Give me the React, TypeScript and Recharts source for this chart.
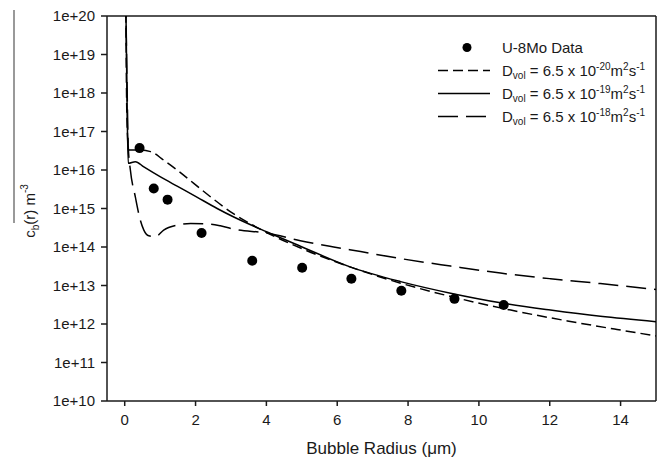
import React from "react";
import { ComposedChart, Line, Scatter, XAxis, YAxis, Legend, ReferenceLine } from "recharts";

// measured U-8Mo bubble density
const dotRadius = [0.42, 0.82, 1.21, 2.17, 3.6, 5.01, 6.4, 7.81, 9.31, 10.7];
const dotConc = [3.7e16, 3.3e15, 1.7e15, 2.3e14, 4.4e13, 2.9e13, 1.5e13, 7.3e12, 4.5e12, 3.1e12];

// Dvol = 6.5e-20
const r20 = [0.03, 0.06, 0.11, 0.4, 0.73, 1.1, 1.48, 1.95, 2.51, 3.08, 3.55, 4.02, 5.0, 6.38, 7.79, 9.2, 10.9, 12.5, 13.9, 15];
const c20 = [3e20, 3e17, 3.3e16, 3.3e16, 3.0e16, 1.8e16, 1.0e16, 4.5e15, 1.74e15, 7.2e14, 4.0e14, 2.35e14, 9.1e13, 3.0e13, 1.15e13, 5.2e12, 2.3e12, 1.2e12, 7.2e11, 4.9e11];

// Dvol = 6.5e-19
const r19 = [0.03, 0.07, 0.1, 0.3, 0.54, 1.01, 1.48, 1.95, 2.61, 3.08, 4.02, 4.96, 6.38, 7.79, 9.2, 10.61, 12.02, 13.43, 15];
const c19 = [3e20, 3e17, 1.5e16, 1.65e16, 1.2e16, 6.6e15, 3.8e15, 2.2e15, 1.0e15, 6.0e14, 2.45e14, 1.05e14, 3.0e13, 1.26e13, 6.3e12, 3.55e12, 2.3e12, 1.58e12, 1.15e12];

// Dvol = 6.5e-18
const r18 = [0.03, 0.07, 0.1, 0.16, 0.3, 0.44, 0.54, 0.68, 0.87, 1.1, 1.48, 1.86, 2.33, 2.7, 3.08, 4.02, 4.96, 5.9, 6.66, 7.79, 9.2, 10.61, 12.02, 13.43, 15];
const c18 = [3e20, 1e18, 4e16, 1e16, 2.0e15, 5.0e14, 2.75e14, 1.95e14, 1.85e14, 2.75e14, 3.7e14, 4.1e14, 4.0e14, 3.55e14, 2.9e14, 2.3e14, 1.45e14, 1.0e14, 7.6e13, 5.0e13, 3.2e13, 2.1e13, 1.5e13, 1.12e13, 7.9e12];

const xTicks = [0, 2, 4, 6, 8, 10, 12, 14];
const yTicks = [1e10, 1e11, 1e12, 1e13, 1e14, 1e15, 1e16, 1e17, 1e18, 1e19, 1e20];

const toRows = (rs: number[], cs: number[]) => rs.map((r, i) => ({ r, c: cs[i] }));

const dots = toRows(dotRadius, dotConc);
const curve20 = toRows(r20, c20);
const curve19 = toRows(r19, c19);
const curve18 = toRows(r18, c18);

const FONT = "'Liberation Sans', Arial, sans-serif";
const INK = "#1a1a1a";

const YLabel = () => (
  <g>
    <line x1={14} y1={10} x2={14} y2={223} stroke="#777" strokeWidth={1.5} />
    <text transform="translate(35,211) rotate(-90)" textAnchor="middle" fontSize={15} fontFamily={FONT} fill={INK}>
      c<tspan fontSize={10} dy={4}>b</tspan>
      <tspan dy={-4}>(r) m</tspan>
      <tspan fontSize={10} dy={-7}>-3</tspan>
    </text>
  </g>
);

const XLabel = () => (
  <text x={381.5} y={454} textAnchor="middle" fontSize={17} fontFamily={FONT} fill={INK}>
    Bubble Radius (μm)
  </text>
);

const sup = { fontSize: 10, position: "relative" as const, top: -6 };
const sub = { fontSize: 10, position: "relative" as const, top: 3 };

const DText = ({ exp }: { exp: string }) => (
  <span>
    D<span style={sub}>vol</span> = 6.5 x 10<span style={sup}>{exp}</span>m<span style={sup}>2</span>s<span style={sup}>-1</span>
  </span>
);

const legendRows = [
  { kind: "dot", dash: "", label: null as React.ReactNode },
  { kind: "line", dash: "10 5", label: <DText exp="-20" /> },
  { kind: "line", dash: "", label: <DText exp="-19" /> },
  { kind: "line", dash: "20 8", label: <DText exp="-18" /> },
];

const ChartLegend = () => (
  <div style={{ fontFamily: FONT, fontSize: 15, color: INK }}>
    {legendRows.map((row, i) => (
      <div key={i} style={{ display: "flex", alignItems: "center", height: 23, whiteSpace: "nowrap" }}>
        <svg width={70} height={23}>
          {row.kind === "dot" ? (
            <circle cx={35} cy={11.5} r={4.5} fill="#000" />
          ) : (
            <line x1={6} y1={11.5} x2={58} y2={11.5} stroke="#000" strokeWidth={1.5} strokeDasharray={row.dash || undefined} />
          )}
        </svg>
        <span>{row.label ?? "U-8Mo Data"}</span>
      </div>
    ))}
  </div>
);

export default function App() {
  return (
    <div style={{ position: "absolute", left: 0, top: 0, width: 665, height: 459, background: "#fff" }}>
      <ComposedChart width={665} height={459} margin={{ top: 16, right: 9, left: 0, bottom: 0 }}>
        <XAxis
          type="number"
          dataKey="r"
          domain={[-0.5, 15]}
          ticks={xTicks}
          allowDataOverflow
          height={58}
          tickSize={5}
          tickMargin={8}
          stroke={INK}
          strokeWidth={1.5}
          tick={{ fontSize: 15, fontFamily: FONT, fill: INK }}
          label={<XLabel />}
        />
        <YAxis
          type="number"
          dataKey="c"
          scale="log"
          domain={[1e10, 1e20]}
          ticks={yTicks}
          allowDataOverflow
          width={107}
          tickSize={6}
          tickMargin={6}
          stroke={INK}
          strokeWidth={1.5}
          interval={0}
          tickFormatter={(v: number) => "1e+" + Math.round(Math.log10(v))}
          tick={{ fontSize: 15, fontFamily: FONT, fill: INK }}
          label={<YLabel />}
        />
        <ReferenceLine y={1e20} stroke={INK} strokeWidth={1.5} />
        <ReferenceLine x={15} stroke={INK} strokeWidth={1.5} />
        <Line data={curve20} dataKey="c" type="monotone" stroke="#000" strokeWidth={1.5} strokeDasharray="10 5" dot={false} isAnimationActive={false} />
        <Line data={curve19} dataKey="c" type="monotone" stroke="#000" strokeWidth={1.5} dot={false} isAnimationActive={false} />
        <Line data={curve18} dataKey="c" type="monotone" stroke="#000" strokeWidth={1.5} strokeDasharray="20 8" dot={false} isAnimationActive={false} />
        <Scatter
          data={dots}
          dataKey="c"
          isAnimationActive={false}
          shape={(p: any) => <circle cx={p.cx} cy={p.cy} r={5} fill="#000" />}
        />
        <Legend
          layout="vertical"
          align="center"
          verticalAlign="middle"
          content={<ChartLegend />}
          wrapperStyle={{ position: "absolute", left: 432, top: 35.5, width: 230 }}
        />
      </ComposedChart>
    </div>
  );
}
